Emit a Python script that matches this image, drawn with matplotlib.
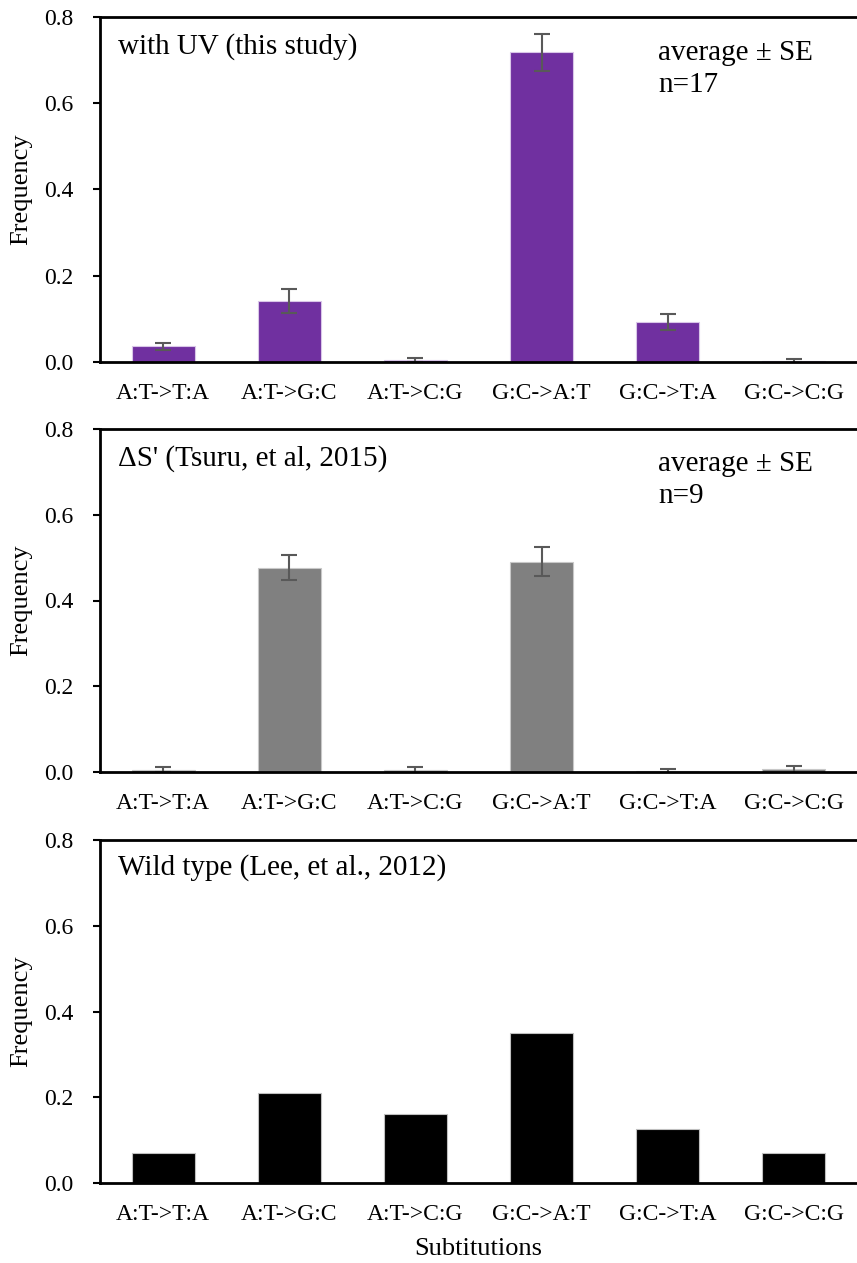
import numpy as np
import matplotlib
matplotlib.use('Agg')
import matplotlib.pyplot as plt

plt.rcParams['font.family'] = ['Liberation Serif', 'DejaVu Serif']

categories = ['A:T->T:A', 'A:T->G:C', 'A:T->C:G', 'G:C->A:T', 'G:C->T:A', 'G:C->C:G']

uv_mean = [0.036, 0.142, 0.004, 0.718, 0.093, 0.002]
uv_se = [0.009, 0.028, 0.005, 0.043, 0.018, 0.004]

ds_mean = [0.005, 0.476, 0.005, 0.490, 0.003, 0.006]
ds_se = [0.006, 0.029, 0.007, 0.034, 0.005, 0.009]

wt_mean = [0.071, 0.209, 0.161, 0.351, 0.126, 0.071]

yticks = [0.0, 0.2, 0.4, 0.6, 0.8]

W, H = 857, 1263
fig = plt.figure(figsize=(W / 100, H / 100), dpi=100)


def make_axes(top_px, bottom_px):
    left = 100 / W
    width = 757 / W
    return fig.add_axes([left, 1 - bottom_px / H, width, (bottom_px - top_px) / H])


def style_axes(ax):
    x = np.arange(len(categories))
    ax.set_xlim(-0.5, len(categories) - 0.5)
    ax.set_ylim(0, 0.8)
    ax.set_yticks(yticks)
    ax.set_yticklabels(['%.1f' % v for v in yticks])
    ax.set_xticks(x)
    ax.set_xticklabels(categories)
    ax.tick_params(axis='y', direction='out', length=5, width=1.5, pad=14, labelsize=17)
    ax.tick_params(axis='x', length=0, pad=15, labelsize=17)
    for s in ['left', 'bottom', 'top']:
        ax.spines[s].set_linewidth(2)
    ax.spines['right'].set_visible(False)
    ax.set_ylabel('Frequency', fontsize=19)
    ax.yaxis.set_label_coords(-0.09, 0.5)


err_kw = dict(ecolor='#595959', elinewidth=1.5, capsize=6, capthick=1.5)
x = np.arange(len(categories))

# panel 1
ax1 = make_axes(17, 362)
ax1.bar(x, uv_mean, width=0.5, color='#7030A0', edgecolor='#d9c6e8', linewidth=0.8,
        yerr=uv_se, error_kw=err_kw)
style_axes(ax1)
ax1.text(0.024, 0.913, 'with UV (this study)', transform=ax1.transAxes, fontsize=21, va='center')
ax1.text(0.737, 0.85, 'average ± SE\nn=17', transform=ax1.transAxes, fontsize=21,
         va='center', linespacing=1.3)

# panel 2
ax2 = make_axes(429, 772)
ax2.bar(x, ds_mean, width=0.5, color='#808080', edgecolor='#c8c8c8', linewidth=0.8,
        yerr=ds_se, error_kw=err_kw)
style_axes(ax2)
ax2.text(0.024, 0.915, "\u0394S' (Tsuru, et al, 2015)", transform=ax2.transAxes, fontsize=21, va='center')
ax2.text(0.737, 0.85, 'average ± SE\nn=9', transform=ax2.transAxes, fontsize=21,
         va='center', linespacing=1.3)

# panel 3
ax3 = make_axes(840, 1183)
ax3.bar(x, wt_mean, width=0.5, color='black', edgecolor='#bfbfbf', linewidth=0.8)
style_axes(ax3)
ax3.text(0.024, 0.92, 'Wild type (Lee, et al., 2012)', transform=ax3.transAxes, fontsize=21, va='center')
ax3.set_xlabel('Subtitutions', fontsize=19)
ax3.xaxis.set_label_coords(0.5, -0.16)

fig.savefig('out.png', dpi=100)
